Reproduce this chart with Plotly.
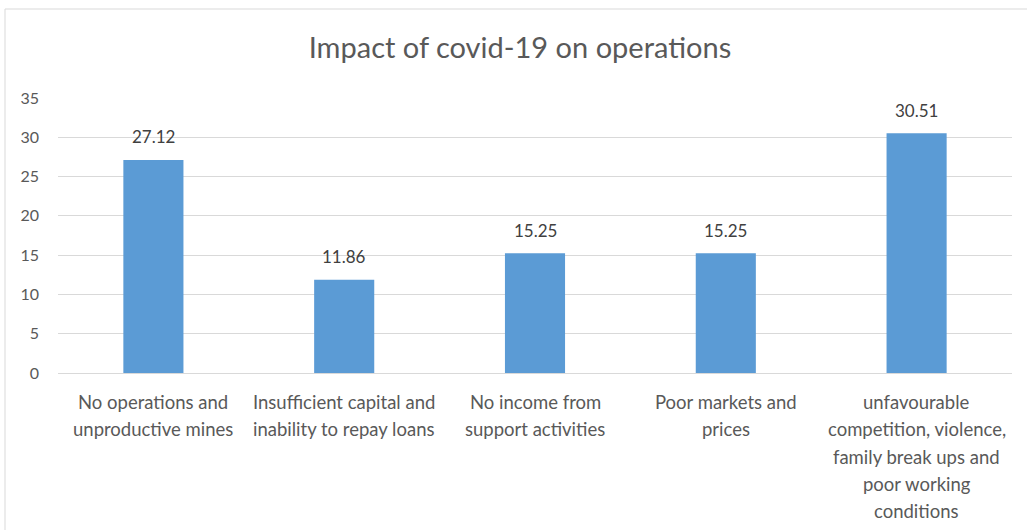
import plotly.graph_objects as go

categories = [
    "No operations and<br>unproductive mines",
    "Insufficient capital and<br>inability to repay loans",
    "No income from<br>support activities",
    "Poor markets and<br>prices",
    "unfavourable<br>competition, violence,<br>family break ups and<br>poor working<br>conditions",
]
values = [27.12, 11.86, 15.25, 15.25, 30.51]
y_ticks = [0, 5, 10, 15, 20, 25, 30, 35]

FONT = "Lato"
TEXT = "#595959"
BAR = "#5B9BD5"
GRID = "#D9D9D9"

fig = go.Figure(
    go.Bar(
        x=categories,
        y=values,
        marker=dict(color=BAR, line=dict(width=0)),
        width=0.315,
        hoverinfo="x+y",
    )
)

annotations = []
# value labels above each bar
for c, v in zip(categories, values):
    annotations.append(dict(
        x=c, y=v, xref="x", yref="y", text=f"{v:.2f}", showarrow=False,
        yanchor="middle", yshift=23,
        font=dict(family=FONT, size=17, color="#404040"),
    ))
# category labels with wide line spacing
for c in categories:
    for i, line in enumerate(c.split("<br>")):
        annotations.append(dict(
            x=c, y=0, xref="x", yref="y", text=line, showarrow=False,
            yanchor="middle", yshift=-(29 + 27.3 * i),
            font=dict(family=FONT, size=18.5, color=TEXT),
        ))

fig.update_layout(
    width=1027, height=530,
    margin=dict(l=58, r=15, t=98, b=157),
    paper_bgcolor="white", plot_bgcolor="white",
    showlegend=False,
    title=dict(
        text="Impact of covid-19 on operations",
        x=520 / 1027, xanchor="center", xref="container",
        y=1 - 48 / 530, yanchor="middle",
        font=dict(family=FONT, size=29, color=TEXT),
    ),
    xaxis=dict(showticklabels=False, showgrid=False, zeroline=False,
               showline=False, ticks=""),
    yaxis=dict(range=[0, 35], tickvals=y_ticks, showgrid=True, gridcolor=GRID,
               gridwidth=1, zeroline=True, zerolinecolor=GRID, zerolinewidth=1,
               showline=False, ticks="", ticklabelstandoff=18,
               tickfont=dict(family=FONT, size=16, color=TEXT)),
    annotations=annotations,
    shapes=[
        dict(type="line", xref="paper", yref="paper",
             x0=(5 - 58) / 954, x1=1.2, y0=(373 - 9) / 275, y1=(373 - 9) / 275,
             line=dict(color="#D9D9D9", width=1)),
        dict(type="line", xref="paper", yref="paper",
             x0=(5 - 58) / 954, x1=(5 - 58) / 954, y0=-1, y1=(373 - 9) / 275,
             line=dict(color="#D9D9D9", width=1)),
    ],
)

fig.write_html("out.html")
